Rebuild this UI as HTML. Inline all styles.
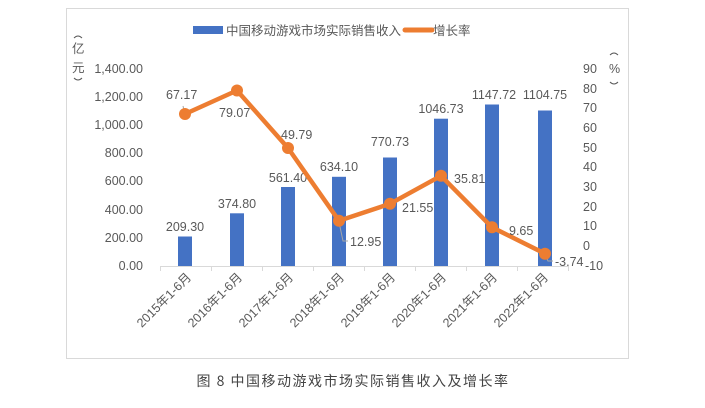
<!DOCTYPE html>
<html><head><meta charset="utf-8"><style>
body{margin:0;background:#fff;width:705px;height:403px;overflow:hidden}
text{font-family:"Liberation Sans","Noto Sans CJK SC",sans-serif;fill:#595959;font-size:12.5px}
</style></head><body>
<svg width="705" height="403" xmlns="http://www.w3.org/2000/svg">
<rect x="66.5" y="8.5" width="562" height="350" fill="#fff" stroke="#d9d9d9"/>
<!-- legend -->
<rect x="193" y="26" width="30" height="8" fill="#4472c4"/>
<text x="226" y="35" font-size="12">中国移动游戏市场实际销售收入</text>
<line x1="405" y1="30" x2="432" y2="30" stroke="#ed7d31" stroke-width="5" stroke-linecap="round"/>
<text x="433" y="35" font-size="12">增长率</text>
<!-- axis titles -->
<path d="M74,38 q4,-4 8,0" fill="none" stroke="#595959"/>
<text x="72" y="53" font-size="13">亿</text>
<text x="72" y="72" font-size="13">元</text>
<path d="M74,78 q4,4 8,0" fill="none" stroke="#595959"/>
<path d="M610,55 q4,-4 8,0" fill="none" stroke="#595959"/>
<text x="609" y="73" font-size="12">%</text>
<path d="M610,82 q4,4 8,0" fill="none" stroke="#595959"/>
<!-- left ticks -->
<g text-anchor="end">
<text x="143" y="73">1,400.00</text><text x="143" y="101">1,200.00</text><text x="143" y="129">1,000.00</text>
<text x="143" y="157">800.00</text><text x="143" y="185">600.00</text><text x="143" y="214">400.00</text>
<text x="143" y="242">200.00</text><text x="143" y="270">0.00</text>
</g>
<g>
<text x="583" y="73">90</text><text x="583" y="93">80</text><text x="583" y="112">70</text><text x="583" y="132">60</text>
<text x="583" y="152">50</text><text x="583" y="171">40</text><text x="583" y="191">30</text><text x="583" y="211">20</text>
<text x="583" y="230">10</text><text x="583" y="250">0</text><text x="585" y="270">-10</text>
</g>
<line x1="160" y1="266.5" x2="568" y2="266.5" stroke="#d9d9d9"/>
<g stroke="#d9d9d9"><line x1="160.5" y1="266" x2="160.5" y2="271"/><line x1="211.5" y1="266" x2="211.5" y2="271"/><line x1="262.5" y1="266" x2="262.5" y2="271"/><line x1="313.5" y1="266" x2="313.5" y2="271"/><line x1="364.5" y1="266" x2="364.5" y2="271"/><line x1="415.5" y1="266" x2="415.5" y2="271"/><line x1="466.5" y1="266" x2="466.5" y2="271"/><line x1="517.5" y1="266" x2="517.5" y2="271"/><line x1="568.5" y1="266" x2="568.5" y2="271"/></g>
<!-- bars -->
<g fill="#4472c4">
<rect x="178" y="236.5" width="14" height="29.5"/>
<rect x="230" y="213.3" width="14" height="52.7"/>
<rect x="281" y="187" width="14" height="79"/>
<rect x="332" y="176.8" width="14" height="89.2"/>
<rect x="383" y="157.5" width="14" height="108.5"/>
<rect x="434" y="118.7" width="14" height="147.3"/>
<rect x="485" y="104.5" width="14" height="161.5"/>
<rect x="538" y="110.5" width="14" height="155.5"/>
</g>
<g text-anchor="middle">
<text x="185" y="231">209.30</text><text x="237" y="208">374.80</text><text x="288" y="182">561.40</text>
<text x="339" y="171">634.10</text><text x="390" y="146">770.73</text><text x="441" y="113">1046.73</text>
<text x="494" y="99">1147.72</text><text x="545" y="99">1104.75</text>
</g>
<!-- leader lines -->
<g stroke="#a6a6a6" fill="none">
<polyline points="339,222 343,241 348,241"/>
<polyline points="545,255 548,261 553,261"/>
<line x1="185" y1="114" x2="183" y2="106"/>
</g>
<!-- line -->
<polyline points="185,114 237,90.5 288,148 339,220.8 390,203.8 441,175.8 492,227.3 545,253.7" fill="none" stroke="#ed7d31" stroke-width="4.5" stroke-linejoin="round"/>
<g fill="#ed7d31">
<circle cx="185" cy="114" r="6"/><circle cx="237" cy="90.5" r="6"/><circle cx="288" cy="148" r="6"/><circle cx="339" cy="220.8" r="6"/><circle cx="390" cy="203.8" r="6"/><circle cx="441" cy="175.8" r="6"/><circle cx="492" cy="227.3" r="6"/><circle cx="545" cy="253.7" r="6"/>
</g>
<text x="166" y="99">67.17</text><text x="219" y="117">79.07</text><text x="281" y="139">49.79</text>
<text x="350" y="246">12.95</text><text x="402" y="212">21.55</text><text x="454" y="183">35.81</text>
<text x="509" y="235">9.65</text><text x="555" y="266">-3.74</text>
<!-- x labels -->
<g font-size="13">
<text transform="translate(192,278) rotate(-45)" text-anchor="end">2015年1-6月</text>
<text transform="translate(243,278) rotate(-45)" text-anchor="end">2016年1-6月</text>
<text transform="translate(294,278) rotate(-45)" text-anchor="end">2017年1-6月</text>
<text transform="translate(345,278) rotate(-45)" text-anchor="end">2018年1-6月</text>
<text transform="translate(396,278) rotate(-45)" text-anchor="end">2019年1-6月</text>
<text transform="translate(447,278) rotate(-45)" text-anchor="end">2020年1-6月</text>
<text transform="translate(498,278) rotate(-45)" text-anchor="end">2021年1-6月</text>
<text transform="translate(549,278) rotate(-45)" text-anchor="end">2022年1-6月</text>
</g>
<text x="353" y="386" text-anchor="middle" style="font-family:'Noto Sans CJK SC',sans-serif;font-size:14px;fill:#444;letter-spacing:1.5px">图 8 中国移动游戏市场实际销售收入及增长率</text>
</svg>
</body></html>
